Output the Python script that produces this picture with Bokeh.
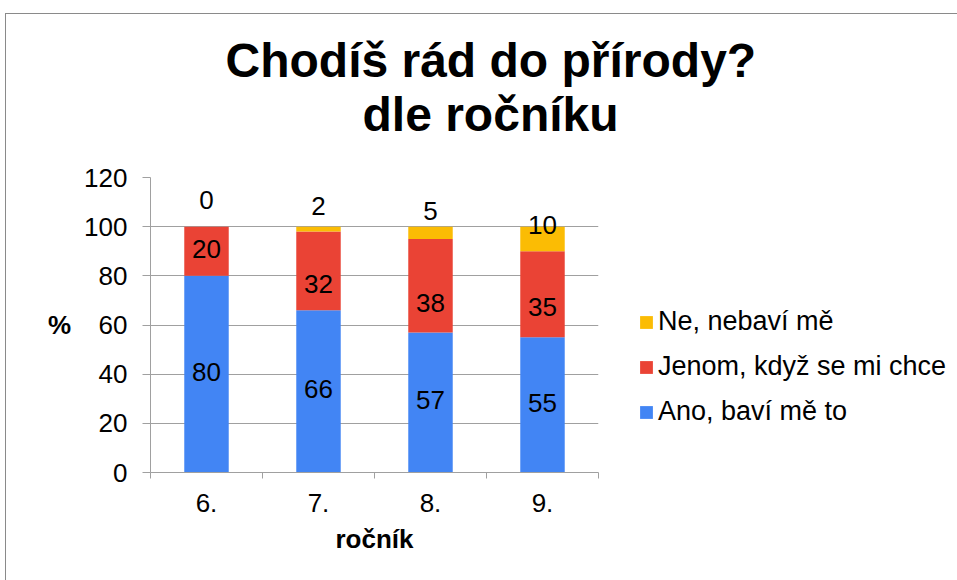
from bokeh.plotting import figure
from bokeh.models import Range1d, FixedTicker, Legend, LegendItem, ColumnDataSource, Title
from bokeh.core.properties import value
from bokeh.embed import file_html
from bokeh.resources import INLINE

# ---- data ----
categories = ["6.", "7.", "8.", "9."]
ano = [80, 66, 57, 55]
jenom = [20, 32, 38, 35]
ne = [0, 2, 5, 10]
series_names = ["Ano, baví mě to", "Jenom, když se mi chce", "Ne, nebaví mě"]
title_lines = ["Chodíš rád do přírody?", "dle ročníku"]
x_axis_title = "ročník"
y_axis_title = "%"
y_ticks = [0, 20, 40, 60, 80, 100, 120]

# ---- style ----
colors = ["#4285F4", "#EA4335", "#FBBC04"]
FONT = "Liberation Sans"
GRID = "#a0a0a0"
label_dy = [[-2, -2, -2, -2], [-2, 13, 17, 13], [-27, -21, -16, -2]]  # px offsets of data labels

W, H = 951, 566
FL, FT, FW, FH = 144, 163, 448, 295

p = figure(frame_width=FW, frame_height=FH, output_backend="svg", toolbar_location=None,
           title_location=None,
           x_range=Range1d(0, len(categories)), y_range=Range1d(0, 120),
           min_border_left=FL, min_border_right=W - FL - FW,
           min_border_top=FT, min_border_bottom=H - FT - FH)
p.styles = {"margin-top": "13px", "margin-left": "5px",
            "border-top": "1px solid #8a8a8a", "border-left": "1px solid #8a8a8a"}
p.outline_line_color = None
p.background_fill_color = "white"
p.border_fill_color = "white"

xs = [i + 0.5 for i in range(len(categories))]
series = [ano, jenom, ne]
bottom = [0] * len(categories)
renderers = []
for s, vals in enumerate(series):
    top = [b + v for b, v in zip(bottom, vals)]
    src = ColumnDataSource(dict(x=xs, bottom=bottom, top=top,
                                mid=[(b + t) / 2 for b, t in zip(bottom, top)],
                                lab=[str(v) for v in vals], dy=label_dy[s]))
    r = p.vbar(x="x", bottom="bottom", top="top", width=0.397, source=src,
               fill_color=colors[s], line_color=None)
    renderers.append(r)
    ycol = "mid" if s < 2 else "top"
    p.text(x="x", y=ycol, text="lab", source=src, y_offset="dy",
           text_align="center", text_baseline="middle",
           text_font=value(FONT), text_font_size="26px", text_color="black")
    bottom = top

# axes
xa = p.xaxis[0]
xa.ticker = FixedTicker(ticks=xs, minor_ticks=list(range(len(categories) + 1)))
xa.major_label_overrides = {x: c for x, c in zip(xs, categories)}
xa.major_tick_out = 0
xa.major_tick_in = 0
xa.minor_tick_out = 6
xa.minor_tick_in = 0
xa.minor_tick_line_color = GRID
xa.axis_line_color = GRID
xa.major_label_standoff = 15
xa.major_label_text_font = FONT
xa.major_label_text_font_size = "26px"
xa.major_label_text_color = "black"
xa.axis_label = x_axis_title
xa.axis_label_standoff = 9
xa.axis_label_text_font = FONT
xa.axis_label_text_font_size = "26px"
xa.axis_label_text_font_style = "bold"
xa.axis_label_text_color = "black"

ya = p.yaxis[0]
ya.ticker = FixedTicker(ticks=y_ticks)
ya.major_tick_out = 8
ya.major_tick_in = 0
ya.major_tick_line_color = GRID
ya.minor_tick_line_color = None
ya.axis_line_color = GRID
ya.major_label_standoff = 15
ya.major_label_text_font = FONT
ya.major_label_text_font_size = "26px"
ya.major_label_text_color = "black"
ya.axis_label = y_axis_title
if "axis_label_orientation" in ya.properties():
    ya.axis_label_orientation = "horizontal"
ya.axis_label_standoff = 10
ya.axis_label_text_font = FONT
ya.axis_label_text_font_size = "26px"
ya.axis_label_text_font_style = "bold"
ya.axis_label_text_color = "black"

p.xgrid.visible = False
p.ygrid.grid_line_color = GRID
p.ygrid.grid_line_width = 1

# title lines: an empty spacer nearest to the plot, then line 2, then line 1
spacer = Title(text=" ", standoff=8, text_font=FONT, text_font_size="24px")
t2 = Title(text=title_lines[1], align="left", offset=212, standoff=0,
           text_font=FONT, text_font_size="48px", text_font_style="bold", text_color="black")
t1 = Title(text=title_lines[0], align="left", offset=75, standoff=-2,
           text_font=FONT, text_font_size="48px", text_font_style="bold", text_color="black")
p.add_layout(spacer, "above")
p.add_layout(t2, "above")
p.add_layout(t1, "above")

# legend
items = [LegendItem(label=series_names[i], renderers=[renderers[i]]) for i in (2, 1, 0)]
legend = Legend(items=items, location=(40, 45), glyph_width=16, glyph_height=16,
                label_standoff=4, spacing=14, padding=0, margin=0,
                border_line_color=None, background_fill_alpha=0,
                label_text_font=FONT, label_text_font_size="27px", label_text_color="black")
p.add_layout(legend, "right")

open("out.html", "w").write(file_html(p, INLINE))
